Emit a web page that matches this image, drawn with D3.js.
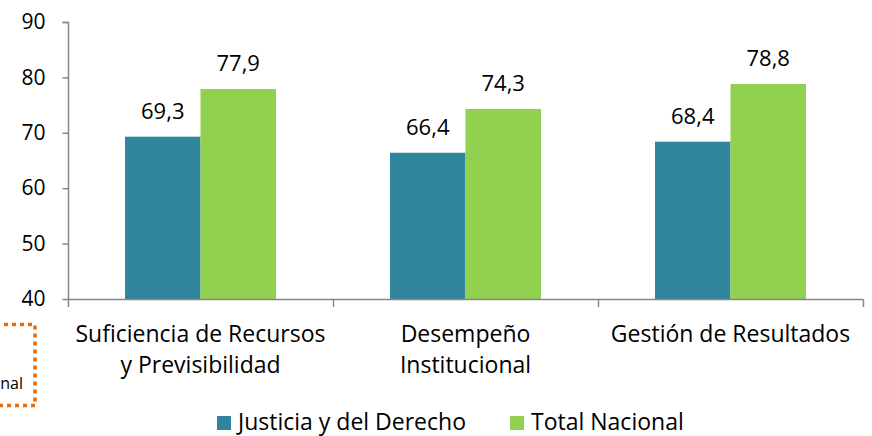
<!DOCTYPE html>
<html><head><meta charset="utf-8">
<script src="https://cdn.jsdelivr.net/npm/d3@7"></script>
<style>
html,body{margin:0;padding:0;background:#fff;}
svg{display:block;font-family:"Open Sans","Noto Sans",sans-serif;}
</style></head>
<body>
<svg id="chart" width="872" height="436"></svg>
<script>
const categories = [["Suficiencia de Recursos","y Previsibilidad"],["Desempeño","Institucional"],["Gestión de Resultados"]];
const seriesNames = ["Justicia y del Derecho","Total Nacional"];
const justicia = [69.3, 66.4, 68.4];
const total = [77.9, 74.3, 78.8];
const yTicks = [40,50,60,70,80,90];
const colors = ["#31859C","#92D050"];

const svg = d3.select("#chart");
const catIdx = categories.map((d,i)=>i);
const x0 = d3.scaleBand().domain(catIdx).range([68,863]).paddingInner(0).paddingOuter(0);
const x1 = d3.scaleBand().domain([0,1]).range([0,x0.bandwidth()]).paddingInner(0).paddingOuter(0.755);
const y = d3.scaleLinear().domain([40,90]).range([299,22]);
const series = [justicia,total];
const fmt = v => d3.format(".1f")(v).replace(".",",");

// y axis
const yAxis = d3.axisLeft(y).tickValues(yTicks).tickSize(6).tickPadding(17).tickFormat(d3.format("d"));
const gy = svg.append("g").attr("transform","translate(68.5,0)").call(yAxis);
gy.select(".domain").attr("stroke","#868686").attr("stroke-width",1.5).attr("d","M-6,22.5H0V299.5");
gy.selectAll(".tick line").attr("stroke","#868686").attr("stroke-width",1.5);
gy.selectAll(".tick text").attr("fill","#000").style("font-size","21px").style("font-family",'"Open Sans",sans-serif');

// bars
catIdx.forEach(ci=>{
  series.forEach((s,si)=>{
    svg.append("rect")
      .attr("x",x0(ci)+x1(si)).attr("width",x1.bandwidth())
      .attr("y",y(s[ci])).attr("height",y(40)-y(s[ci]))
      .attr("fill",colors[si]);
    svg.append("text")
      .attr("x",x0(ci)+x1(si)+x1.bandwidth()/2).attr("y",y(s[ci])-18)
      .attr("text-anchor","middle").attr("font-size","22px").attr("fill","#000")
      .text(fmt(s[ci]));
  });
});

// x axis
const boundaries = [0,1,2,3].map(i=> i<3 ? x0(i) : x0(2)+x0.bandwidth());
svg.append("line").attr("x1",68).attr("x2",863.5).attr("y1",299.5).attr("y2",299.5).attr("stroke","#868686").attr("stroke-width",1.5);
boundaries.forEach(b=>{
  svg.append("line").attr("x1",Math.round(b)+0.5).attr("x2",Math.round(b)+0.5).attr("y1",299.5).attr("y2",307).attr("stroke","#868686").attr("stroke-width",1.5);
});
categories.forEach((lines,ci)=>{
  const t = svg.append("text").attr("text-anchor","middle").attr("font-size","23px").attr("fill","#000");
  lines.forEach((l,li)=>{
    t.append("tspan").attr("x",x0(ci)+x0.bandwidth()/2).attr("y",342+li*31).text(l);
  });
});

// orange dotted box (partially visible)
svg.append("rect").attr("x",-100).attr("y",324.5).attr("width",135).attr("height",81)
  .attr("fill","none").attr("stroke","#E46C0A").attr("stroke-width",3.5).attr("stroke-dasharray","4,4");
svg.append("text").attr("x",23).attr("y",389).attr("text-anchor","end").attr("font-size","16px").attr("fill","#000").text("nal");

// legend
const legX = [217,510];
seriesNames.forEach((n,i)=>{
  svg.append("rect").attr("x",legX[i]).attr("y",416).attr("width",14).attr("height",14).attr("fill",colors[i]);
  svg.append("text").attr("x",legX[i]+21).attr("y",430).attr("font-size","23px").attr("fill","#000").text(n);
});
</script>
</body></html>
